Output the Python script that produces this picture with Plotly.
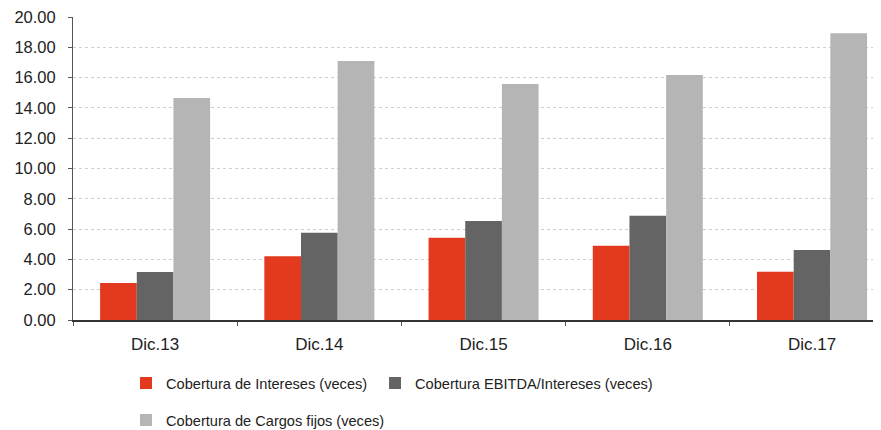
import plotly.graph_objects as go

categories = ["Dic.13", "Dic.14", "Dic.15", "Dic.16", "Dic.17"]
cobertura_intereses = [2.45, 4.20, 5.43, 4.90, 3.19]
cobertura_ebitda = [3.17, 5.76, 6.53, 6.88, 4.62]
cobertura_cargos = [14.65, 17.10, 15.58, 16.17, 18.92]
series_names = ["Cobertura de Intereses (veces)",
                "Cobertura EBITDA/Intereses (veces)",
                "Cobertura de Cargos fijos (veces)"]
y_ticks = [0, 2, 4, 6, 8, 10, 12, 14, 16, 18, 20]

colors = ["#e2391f", "#646464", "#b5b5b5"]
values = [cobertura_intereses, cobertura_ebitda, cobertura_cargos]
legend_ids = ["legend", "legend2", "legend3"]

fig = go.Figure()
for name, vals, col, lg in zip(series_names, values, colors, legend_ids):
    fig.add_trace(go.Bar(x=categories, y=vals, name=name, legend=lg,
                         marker=dict(color=col, line=dict(width=0))))

font = "Liberation Sans, Arial, sans-serif"
legend_common = dict(orientation="h", xanchor="left", yanchor="middle",
                     font=dict(size=14.6, color="#222222"),
                     itemwidth=30, bgcolor="rgba(0,0,0,0)")
fig.update_layout(
    width=881, height=430,
    margin=dict(l=65, r=8, t=9, b=118, autoexpand=False),
    paper_bgcolor="white", plot_bgcolor="white",
    barmode="group", bargap=0.33, bargroupgap=0,
    font=dict(family=font, size=15, color="#222222"),
    showlegend=True,
    legend=dict(x=0.0656, y=-0.208, **legend_common),
    legend2=dict(x=0.3738, y=-0.208, **legend_common),
    legend3=dict(x=0.0656, y=-0.330, **legend_common),
    xaxis=dict(range=[-0.5, 4.42], showline=True, linecolor="#333333", linewidth=1.5,
               ticks="outside", tickson="boundaries", ticklen=4, tickcolor="#555555",
               showgrid=False, tickfont=dict(size=17), ticklabelstandoff=8,
               automargin=False, ticklabeloverflow="allow"),
    yaxis=dict(range=[0, 20], tickvals=y_ticks, tickformat=".2f",
               showline=True, linecolor="#555555", linewidth=1,
               ticks="outside", ticklen=4, tickcolor="#555555",
               showgrid=True, gridcolor="#cfcfcf", griddash="dot", gridwidth=1,
               zeroline=False, tickfont=dict(size=16.5), ticklabelstandoff=9,
               automargin=False, ticklabeloverflow="allow"),
)

fig.write_html("out.html")
